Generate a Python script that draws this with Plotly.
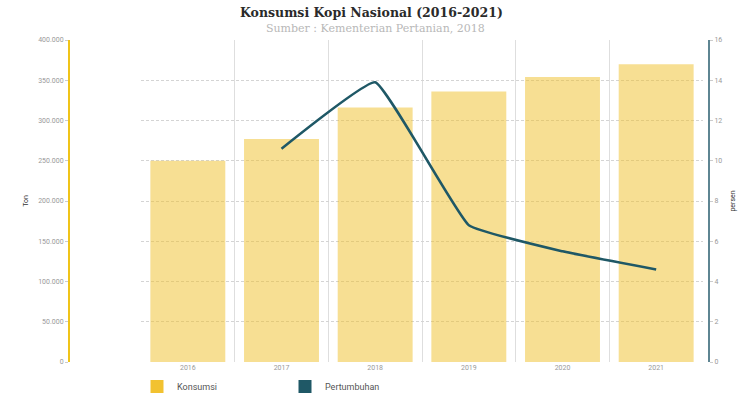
import plotly.graph_objects as go

years = ["2016", "2017", "2018", "2019", "2020", "2021"]
konsumsi = [250000, 277000, 316000, 336000, 354000, 370000]
growth_years = ["2017", "2018", "2019", "2020", "2021"]
pertumbuhan = [10.6, 13.9, 6.8, 5.5, 4.6]

W, H = 748, 401

fig = go.Figure()
fig.add_trace(go.Bar(
    x=years, y=konsumsi, name="Konsumsi", showlegend=False,
    marker=dict(color="rgba(240,192,40,0.5)", line=dict(width=0)), width=0.8,
    xaxis="x", yaxis="y",
))
fig.add_trace(go.Scatter(
    x=growth_years, y=pertumbuhan, name="Pertumbuhan", showlegend=False,
    mode="lines", line=dict(color="#1f5866", width=2.5, shape="spline", smoothing=0.3),
    xaxis="x", yaxis="y2",
))
# legend swatches
fig.add_trace(go.Scatter(x=[None], y=[None], mode="markers", name="Konsumsi",
                         marker=dict(symbol="square", size=13, color="#f2c230"),
                         xaxis="x", yaxis="y"))
fig.add_trace(go.Scatter(x=[None], y=[None], mode="markers", name="Pertumbuhan",
                         marker=dict(symbol="square", size=13, color="#1f5866"),
                         xaxis="x", yaxis="y"))

tickfont = dict(family="Roboto, Arial, sans-serif", size=7, color="#999999")
ydom = [(H - 362) / H, (H - 40) / H]

fig.update_layout(
    width=W, height=H,
    margin=dict(l=0, r=0, t=0, b=0),
    paper_bgcolor="white", plot_bgcolor="white",
    separators=",.",
    annotations=[
        dict(text="<b>Konsumsi Kopi Nasional (2016-2021)</b>", xref="paper", yref="paper",
             x=371 / W, y=(H - 12.5) / H, xanchor="center", yanchor="middle", showarrow=False,
             font=dict(family="DejaVu Serif, serif", size=12.5, color="#2a2a2a")),
        dict(text="Sumber : Kementerian Pertanian, 2018", xref="paper", yref="paper",
             x=375 / W, y=(H - 28.5) / H, xanchor="center", yanchor="middle", showarrow=False,
             font=dict(family="DejaVu Serif, serif", size=11, color="#b8b8b8")),
    ],
    xaxis=dict(
        domain=[141 / W, 703 / W], type="category",
        tickson="boundaries", showgrid=True, gridcolor="#dedede", gridwidth=1,
        ticks="", tickfont=tickfont, showline=False, zeroline=False,
        range=[-0.5, 5.5], automargin=False,
    ),
    yaxis=dict(
        domain=ydom,
        anchor="free", position=69 / W, side="left",
        range=[0, 400000], dtick=50000, tickformat=",d",
        showgrid=True, gridcolor="#d4d4d4", griddash="3px,2px", gridwidth=1,
        showline=True, linecolor="#f0c419", linewidth=2,
        ticks="outside", ticklen=3, tickcolor="#cccccc",
        tickfont=tickfont, zeroline=False,
        title=dict(text="Ton", font=dict(family="Roboto, Arial, sans-serif", size=7, color="#333333"), standoff=8),
        automargin=False,
    ),
    yaxis2=dict(
        domain=ydom,
        anchor="free", position=709 / W, side="right", overlaying="y",
        range=[0, 16], dtick=2,
        showgrid=False, zeroline=False,
        showline=True, linecolor="#5e8592", linewidth=2,
        ticks="outside", ticklen=3, tickcolor="#cccccc",
        tickfont=tickfont,
        title=dict(text="persen", font=dict(family="Roboto, Arial, sans-serif", size=7, color="#333333"), standoff=8),
        automargin=False,
    ),
    legend=dict(
        orientation="h", x=137 / W, xanchor="left", y=0, yanchor="bottom",
        font=dict(family="Roboto, Arial, sans-serif", size=9, color="#555555"),
        entrywidth=103, entrywidthmode="pixels", itemwidth=30,
        bgcolor="rgba(0,0,0,0)",
    ),
    showlegend=True,
)

fig.write_html("out.html", config={"displayModeBar": False},
               post_script="document.body.style.margin='0';document.body.style.padding='0';")
